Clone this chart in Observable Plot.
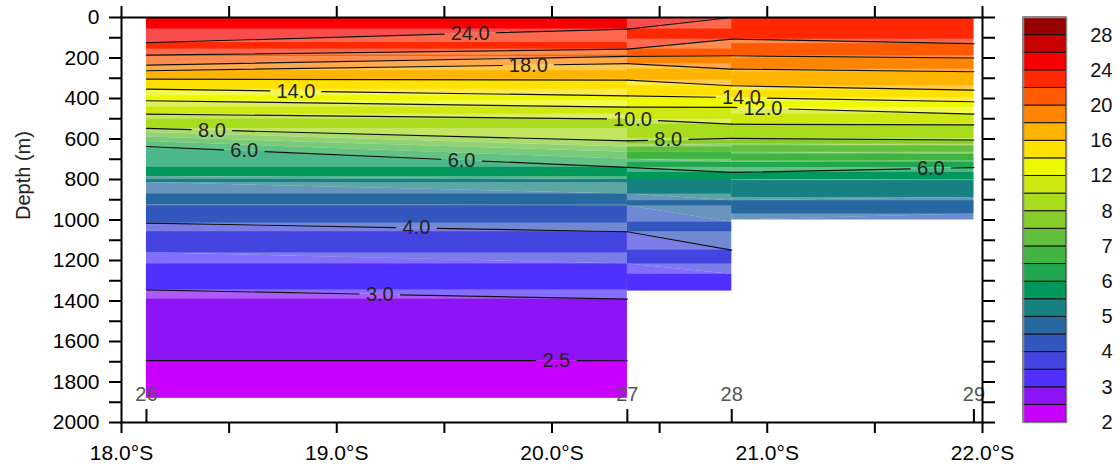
<!DOCTYPE html>
<html><head><meta charset="utf-8">
<script src="https://cdn.jsdelivr.net/npm/d3@7"></script>
<script src="https://cdn.jsdelivr.net/npm/@observablehq/plot@0.6"></script>
<style>
html,body{margin:0;padding:0;background:#fff;}
#wrap{position:relative;width:1120px;height:470px;overflow:hidden;font-family:"Liberation Sans",Arial,sans-serif;}
#main{position:absolute;left:0;top:0;}
#bar{position:absolute;left:1010px;top:0;}
</style></head><body>
<div id="wrap"><div id="main"></div><div id="bar"></div></div>
<script>
// ---- data ----
const stationIds = [26, 27, 28, 29];
const stationLat = [18.116, 20.35, 20.835, 21.96];
const stationBottom = [1880, 1880, 1350, 1000];
const levels = [2, 2.5, 3, 3.5, 4, 4.5, 5, 5.5, 6, 6.5, 7, 7.5, 8, 10, 12, 14, 16, 18, 20, 22, 24, 26, 28];
const bandColors = ["#c800ff","#8c14f5","#5030ff","#4444e0","#3258c0","#2868a0","#178080","#00985a","#20a850","#40b440","#62bf3c","#88cc2c","#aadc1e","#d0e812","#eef800","#ffe100","#ffb400","#ff8400","#ff5a00","#ff2800","#f80000","#c80000","#960000"];
// isotherm depth (m) at each station, one entry per level; null = isotherm not present
const iso26 = [null, 1694, 1345, 1162, 1015, 925, 815, 785, 637, 612, 590, 568, 548, 477, 411, 354, 304, 263, 235, 186, 124, null, null];
const iso27 = [null, 1695, 1391, 1217, 1058, 930, 872, 800, 740, 700, 665, 640, 609, 502, 443, 387, 309, 228, 192, 156, 57, null, null];
const iso28 = [null, null, null, 1268, 1149, 1011, 905, 800, 765, 715, 665, 625, 597, 527, 444, 395, 337, 255, 189, 107, null, null, null];
const iso29 = [null, null, null, null, null, 970, 889, 806, 741, 708, 675, 634, 605, 530, 477, 416, 359, 268, 200, 129, null, null, null];
const lineLevels = [2.5, 3, 4, 6, 8, 10, 12, 14, 16, 18, 20, 22, 24];
const labelLat = [19.62, 19.89, 18.81, 18.42, 18.57, 19.58, 20.374, 20.54, 20.88, 20.98, 21.76, 19.37, 19.20, 20.02];
const labelLevel = [24, 18, 14, 8, 6, 6, 10, 8, 14, 12, 6, 4, 3, 2.5];
const xTicks = [18, 18.5, 19, 19.5, 20, 20.5, 21, 21.5, 22];
const yTicks = [0,100,200,300,400,500,600,700,800,900,1000,1100,1200,1300,1400,1500,1600,1700,1800,1900,2000];
const barLabelIdx = [0, 2, 4, 6, 8, 10, 12, 14, 16, 18, 20, 22];

// ---- derived geometry ----
const isoByStation = [iso26, iso27, iso28, iso29];
const n = levels.length;
function resolveIso(s, k, bottom) {
  if (k >= n) return 0;
  const arr = isoByStation[s];
  const v = arr[k];
  if (v == null) {
    const first = arr.findIndex(d => d != null);
    return k < first ? bottom : 0;
  }
  return Math.min(v, bottom);
}
const segs = [0, 1, 2].map(s => ({a: s, b: s + 1, bottom: Math.min(stationBottom[s], stationBottom[s + 1])}));

const areaRows = [], fullRows = [];
segs.forEach((sg, si) => {
  for (let k = 0; k < n; k++) {
    const upA = resolveIso(sg.a, k + 1, sg.bottom), upB = resolveIso(sg.b, k + 1, sg.bottom);
    const loA = resolveIso(sg.a, k, sg.bottom), loB = resolveIso(sg.b, k, sg.bottom);
    if (loA - upA <= 0 && loB - upB <= 0) continue;
    const id = si + "-" + k;
    areaRows.push({id, level: levels[k], x: stationLat[sg.a], y1: upA, y2: loA});
    areaRows.push({id, level: levels[k], x: stationLat[sg.b], y1: upB, y2: loB});
    const t = Math.max(upA, upB), b = Math.min(loA, loB);
    if (b - t > 0.5) fullRows.push({level: levels[k], x1: stationLat[sg.a], x2: stationLat[sg.b], y1: t, y2: b});
  }
});

const pxPerLat = 861 / 4;
const labels = labelLat.map((lat, i) => ({lat, level: labelLevel[i], text: labelLevel[i].toFixed(1)}));
labels.forEach(l => { l.half = (l.text.length * 10.5 + 10) / 2 / pxPerLat; });

const lineRows = [], labelRows = [];
lineLevels.forEach(L => {
  const k = levels.indexOf(L);
  segs.forEach((sg, si) => {
    const dA = resolveIso(sg.a, k, sg.bottom), dB = resolveIso(sg.b, k, sg.bottom);
    if ((dA >= sg.bottom && dB >= sg.bottom) || (dA <= 0 && dB <= 0)) return;
    const x0 = stationLat[sg.a], x1 = stationLat[sg.b];
    const f = x => dA + (dB - dA) * (x - x0) / (x1 - x0);
    const myLabels = labels.filter(l => l.level === L);
    myLabels.forEach(l => { if (l.lat >= x0 && l.lat <= x1) labelRows.push({x: l.lat, y: f(l.lat), text: l.text}); });
    let intervals = [[x0, x1]];
    myLabels.forEach(l => {
      const g0 = l.lat - l.half, g1 = l.lat + l.half;
      intervals = intervals.flatMap(([a, b]) => {
        if (g1 <= a || g0 >= b) return [[a, b]];
        const out = [];
        if (g0 > a) out.push([a, g0]);
        if (g1 < b) out.push([g1, b]);
        return out;
      });
    });
    intervals.forEach(([a, b], j) => {
      const id = L + "-" + si + "-" + j;
      lineRows.push({id, x: a, y: f(a)});
      lineRows.push({id, x: b, y: f(b)});
    });
  });
});

const stationRows = stationIds.map((id, i) => ({id: String(id), lat: stationLat[i]}));
const colorScale = {type: "threshold", domain: levels, range: [bandColors[0], ...bandColors]};
const font = "Liberation Sans, Arial, Helvetica, sans-serif";

const main = Plot.plot({
  width: 1010, height: 470,
  marginLeft: 121, marginRight: 28, marginTop: 17, marginBottom: 48,
  style: {fontFamily: font, fontSize: "21px", background: "white", color: "black", overflow: "visible"},
  x: {domain: [18, 22]},
  y: {domain: [0, 2000], reverse: true},
  color: colorScale,
  marks: [
    Plot.areaY(areaRows, {x: "x", y1: "y1", y2: "y2", z: "id", fill: "level", fillOpacity: 0.7, curve: "linear"}),
    Plot.rect(fullRows, {x1: "x1", x2: "x2", y1: "y1", y2: "y2", fill: "level"}),
    Plot.line(lineRows, {x: "x", y: "y", z: "id", stroke: "#111", strokeWidth: 1.2}),
    Plot.text(labelRows, {x: "x", y: "y", text: "text", fontSize: 20, fill: "#222"}),
    Plot.ruleX(stationRows, {x: "lat", y1: 2000, y2: 1936, stroke: "black", strokeWidth: 2}),
    Plot.text(stationRows, {x: "lat", frameAnchor: "bottom", lineAnchor: "middle", dy: -28, text: "id", fill: "#555", fontSize: 20}),
    Plot.axisX({anchor: "bottom", ticks: xTicks, tickSize: 11, tickPadding: 12, strokeWidth: 2, fontSize: 21,
      tickFormat: d => Number.isInteger(d) ? d.toFixed(1) + "°S" : "", label: null}),
    Plot.axisX({anchor: "top", ticks: xTicks, tickSize: 12, strokeWidth: 2, tickFormat: () => "", label: null}),
    Plot.axisY({anchor: "left", ticks: yTicks, tickSize: 12, tickPadding: 10, strokeWidth: 2, fontSize: 21,
      tickFormat: d => d % 200 === 0 ? String(d) : "", label: null}),
    Plot.axisY({anchor: "right", ticks: yTicks, tickSize: 12, strokeWidth: 2, tickFormat: () => "", label: null}),
    Plot.text(["Depth (m)"], {frameAnchor: "left", dx: -98, rotate: -90, fontSize: 20, fill: "#222"}),
    Plot.frame({stroke: "black", strokeWidth: 2})
  ]
});
document.getElementById("main").append(main);

const barRows = levels.map((L, i) => ({i, L}));
const bar = Plot.plot({
  width: 110, height: 470,
  marginLeft: 13, marginRight: 54, marginTop: 17, marginBottom: 48,
  style: {fontFamily: font, fontSize: "21px", background: "transparent", overflow: "visible"},
  x: {domain: [0, 1], axis: null},
  y: {domain: [0, n], axis: null},
  color: colorScale,
  marks: [
    Plot.rect(barRows, {x1: 0, x2: 1, y1: "i", y2: d => d.i + 1, fill: "L", stroke: "#111", strokeWidth: 1}),
    Plot.frame({stroke: "#888", strokeWidth: 1.5}),
    Plot.text(barLabelIdx.map(i => ({i, L: levels[i]})), {x: 1, y: "i", text: d => String(d.L), dx: 46, textAnchor: "end", fontSize: 20, fill: "#111"})
  ]
});
document.getElementById("bar").append(bar);
</script>
</body></html>
